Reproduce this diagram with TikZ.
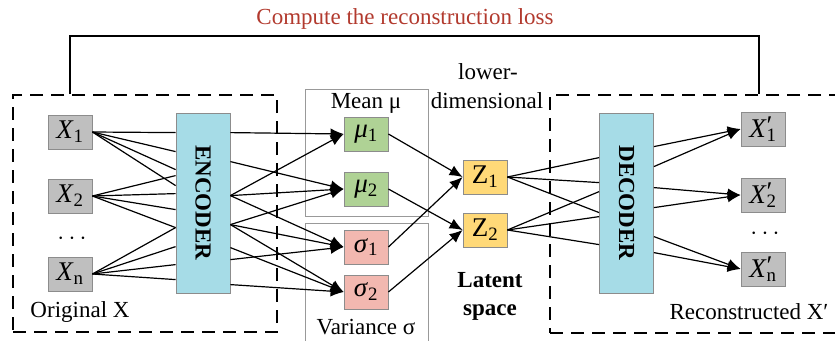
\documentclass[tikz,border=0pt]{standalone}
\usepackage{fontspec}
\setmainfont{Liberation Serif}
\usetikzlibrary{arrows.meta,positioning}
\definecolor{lossred}{HTML}{B23A2E}
\definecolor{cellgray}{HTML}{BFBFBF}
\definecolor{celledge}{HTML}{8C8C8C}
\definecolor{codercyan}{HTML}{A6DCE7}
\definecolor{meangreen}{HTML}{AFD295}
\definecolor{varred}{HTML}{F2B8B0}
\definecolor{latentyellow}{HTML}{FFD978}
\tikzset{font=\fontsize{23}{26}\selectfont}
\tikzstyle{cell}=[draw=celledge,line width=0.8pt,minimum width=44pt,minimum height=34pt,inner sep=0pt,font=\fontsize{27}{30}\selectfont]
\tikzstyle{xcell}=[cell,fill=cellgray]
\tikzstyle{mucell}=[cell,fill=meangreen]
\tikzstyle{sigcell}=[cell,fill=varred]
\tikzstyle{zcell}=[cell,fill=latentyellow]
\tikzstyle{coder}=[draw=celledge,line width=0.8pt,fill=codercyan,minimum width=54pt,minimum height=180pt,inner sep=0pt]
\tikzstyle{dashbox}=[draw,line width=1.8pt,dash pattern=on 13pt off 8pt]
\tikzstyle{groupbox}=[draw=black!40,line width=0.9pt]
\tikzstyle{link}=[line width=1.2pt]

\begin{document}
\begin{tikzpicture}[x=1pt,y=-1pt,>={Latex[length=13pt,width=11pt]}]
\useasboundingbox (0,0) rectangle (835,340);
% reconstruction loss
\node[text=lossred] (loss) at (405,19) {Compute the reconstruction loss};
\node[dashbox,minimum width=264pt,minimum height=237pt] (orig) at (145,213.5) {};
\node[dashbox,minimum width=300pt,minimum height=238pt] (recon) at (700,214) {};
\coordinate (lossL) at (70,36);
\coordinate (lossR) at (759,36);
\draw[line width=1.3pt] (lossL |- orig.north) -- (lossL) -- (lossR) -- (lossR |- recon.north);
% mean / variance groups
\node[groupbox,minimum width=123pt,minimum height=127pt] (mean) at (366.5,152.5) {};
\node[groupbox,minimum width=123pt,minimum height=127pt] (var) at (366.5,286.5) {};
\node (meanlbl) at (366,103) {Mean μ};
\node (varlbl) at (366,327) {Variance σ};
% input
\node[xcell] (x1) at (70,132) {\textit{X}\textsubscript{1}};
\node[xcell] (x2) at (70,196) {\textit{X}\textsubscript{2}};
\node[inner sep=0pt] (xdots) at (72,239) {$\cdots$};
\node[xcell] (xn) at (70,274) {\textit{X}\textsubscript{n}};
\node (origlbl) at (80,312) {Original X};
\node[coder] (enc) at (203,203) {\rotatebox{-90}{\textbf{ENCODER}}};
% latent
\node[mucell] (mu1) at (366,134) {\textit{μ}\textsubscript{1}};
\node[mucell] (mu2) at (366,189) {\textit{μ}\textsubscript{2}};
\node[sigcell] (sig1) at (366,247) {\textit{σ}\textsubscript{1}};
\node[sigcell] (sig2) at (366,292) {\textit{σ}\textsubscript{2}};
\node[zcell] (z1) at (485,177) {Z\textsubscript{1}};
\node[zcell] (z2) at (485,230) {Z\textsubscript{2}};
\node (lower) at (488,72) {lower-};
\node (dim) at (487,101) {dimensional};
\node[font=\fontsize{23}{28}\selectfont\bfseries,align=center] (latent) at (490,296) {Latent\\space};
% output
\node[coder] (dec) at (626.5,203) {\rotatebox{-90}{\textbf{DECODER}}};
\node[xcell] (y1) at (763,129) {\textit{X}\rlap{\raisebox{0.12em}{′}}\textsubscript{1}};
\node[xcell] (y2) at (763,195) {\textit{X}\rlap{\raisebox{0.12em}{′}}\textsubscript{2}};
\node[inner sep=0pt] (ydots) at (765,234) {$\cdots$};
\node[xcell] (yn) at (763,269) {\textit{X}\rlap{\raisebox{0.12em}{′}}\textsubscript{n}};
\node (reconlbl) at (749,312) {Reconstructed X′};

\path[link]
(x1.east) edge ([yshift=-20pt]enc.north west) edge ([yshift=-39pt]enc.north west)
  edge ([yshift=-57pt]enc.north west) edge ([yshift=-73pt]enc.north west)
(x2.east) edge ([yshift=-63pt]enc.north west) edge ([yshift=-81pt]enc.north west)
  edge ([yshift=-97pt]enc.north west) edge ([yshift=-115pt]enc.north west)
(xn.east) edge ([yshift=-115pt]enc.north west) edge ([yshift=-134pt]enc.north west)
  edge ([yshift=-152pt]enc.north west) edge ([yshift=-167pt]enc.north west);
\path[link,->]
([yshift=-20pt]enc.north east) edge (mu1.west)
([yshift=-49pt]enc.north east) edge (mu2.west)
([yshift=-83pt]enc.north east) edge (mu1.west) edge (mu2.west) edge (sig1.west)
([yshift=-112pt]enc.north east) edge (mu2.west) edge (sig1.west) edge (sig2.west)
([yshift=-135pt]enc.north east) edge (sig2.west)
([yshift=-147pt]enc.north east) edge (sig1.west)
([yshift=-172pt]enc.north east) edge (sig2.west);
\path[link,->]
(mu1.east) edge (z1.west)
(sig1.east) edge (z1.west)
(mu2.east) edge (z2.west)
(sig2.east) edge (z2.west);
\path[link]
(z1.east) edge ([yshift=-45pt]dec.north west) edge ([yshift=-70pt]dec.north west)
  edge ([yshift=-100pt]dec.north west)
(z2.east) edge ([yshift=-79pt]dec.north west) edge ([yshift=-104pt]dec.north west)
  edge ([yshift=-132pt]dec.north west);
\path[link,->]
([yshift=-34pt]dec.north east) edge (y1.west)
([yshift=-54pt]dec.north east) edge (y1.west)
([yshift=-75pt]dec.north east) edge (y2.west)
([yshift=-95pt]dec.north east) edge (y2.west)
([yshift=-124pt]dec.north east) edge (yn.west)
([yshift=-140pt]dec.north east) edge (yn.west);
\end{tikzpicture}
\end{document}
